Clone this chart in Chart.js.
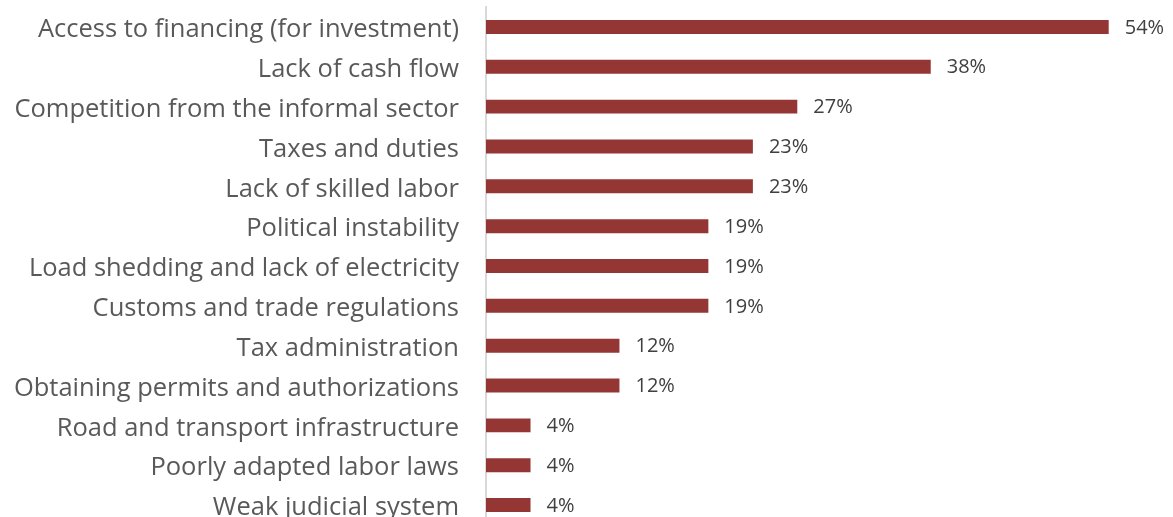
<!DOCTYPE html>
<html>
<head>
<meta charset="utf-8">
<script src="https://cdn.jsdelivr.net/npm/chart.js@4.4.1/dist/chart.umd.min.js"></script>
<style>
  html, body { margin: 0; padding: 0; background: #fff; overflow: hidden; }
  #chart-bars { display: block; }
</style>
</head>
<body>
<canvas id="chart-bars" width="1173" height="530"></canvas>
<script>
// data
var categories = [
    "Access to financing (for investment)",
    "Lack of cash flow",
    "Competition from the informal sector",
    "Taxes and duties",
    "Lack of skilled labor",
    "Political instability",
    "Load shedding and lack of electricity",
    "Customs and trade regulations",
    "Tax administration",
    "Obtaining permits and authorizations",
    "Road and transport infrastructure",
    "Poorly adapted labor laws",
    "Weak judicial system"
];
var shares = [53.85, 38.46, 26.92, 23.08, 23.08, 19.23, 19.23, 19.23, 11.54, 11.54, 3.85, 3.85, 3.85];

// value labels at the end of each bar
var barLabels = {
    id: "barLabels",
    afterDatasetsDraw: function(chart) {
        var ctx = chart.ctx;
        var meta = chart.getDatasetMeta(0);
        ctx.save();
        ctx.font = "20px 'Open Sans'";
        ctx.fillStyle = "#404040";
        ctx.textAlign = "left";
        ctx.textBaseline = "middle";
        meta.data.forEach(function(bar, i) {
            ctx.fillText(Math.round(shares[i]) + "%", bar.x + 16, bar.y + 1);
        });
        ctx.restore();
    }
};

var ctx1 = document.getElementById("chart-bars").getContext("2d");

new Chart(ctx1, {
    type: "bar",
    data: {
        labels: categories,
        datasets: [{
            data: shares,
            backgroundColor: "#943634",
            borderWidth: 0,
            barPercentage: 0.35,
            categoryPercentage: 1
        }]
    },
    plugins: [barLabels],
    options: {
        indexAxis: "y",
        responsive: false,
        animation: false,
        layout: {
            padding: { top: 7, right: 51, bottom: 5, left: 0 }
        },
        plugins: {
            legend: { display: false },
            tooltip: { enabled: false }
        },
        scales: {
            x: {
                display: false,
                min: 0,
                max: 55
            },
            y: {
                afterFit: function(scale) {
                    scale.width = 486;
                    scale.paddingTop = 0;
                    scale.paddingBottom = 0;
                },
                grid: {
                    display: true,
                    color: "rgba(0,0,0,0)",
                    drawTicks: false
                },
                border: {
                    display: true,
                    color: "#d9d9d9",
                    width: 2
                },
                ticks: {
                    padding: 27,
                    labelOffset: 3,
                    color: "#595959",
                    autoSkip: false,
                    font: {
                        size: 25.5,
                        family: "Open Sans"
                    }
                }
            }
        }
    }
});
</script>
</body>
</html>
